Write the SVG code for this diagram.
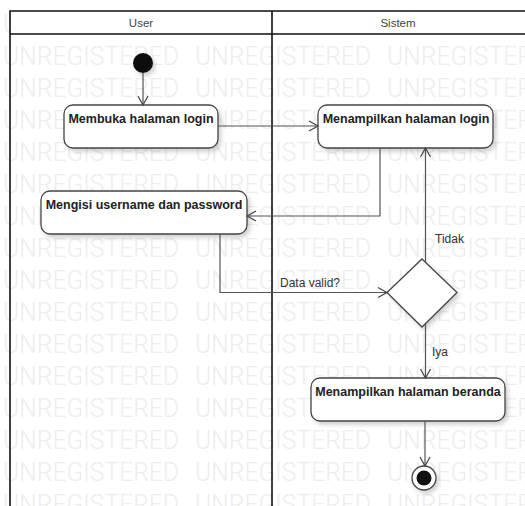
<svg xmlns="http://www.w3.org/2000/svg" width="525" height="506" viewBox="0 0 525 506">
<style>
.wm text{font-family:Roboto,"Liberation Sans",Arial,sans-serif;font-weight:300;font-size:25px;fill:#eeeeee}
.frame{fill:none;stroke:#111;stroke-width:1.6}
.hdr{font-family:"Liberation Sans",Arial,sans-serif;font-size:11.5px;fill:#444;text-anchor:middle}
.box{fill:#fff;stroke:#444;stroke-width:1.3;filter:url(#sh)}
.lbl{font-family:"Liberation Sans",Arial,sans-serif;font-size:12.5px;font-weight:bold;fill:#222;text-anchor:middle}
.cl{fill:none;stroke:#555;stroke-width:1.2}
.ct{font-family:"Liberation Sans",Arial,sans-serif;font-size:12px;fill:#333}
</style>
<defs>
<filter id="sh" x="-10%" y="-20%" width="130%" height="160%">
<feDropShadow dx="2.5" dy="3" stdDeviation="2" flood-color="#000" flood-opacity="0.18"/>
</filter>
<marker id="arr" viewBox="-11 -7 13 14" refX="0" refY="0" markerWidth="13" markerHeight="14" markerUnits="userSpaceOnUse" orient="auto">
<path d="M-9,-5 L0,0 L-9,5" fill="none" stroke="#444" stroke-width="1.2"/>
</marker>
</defs>
<rect width="525" height="506" fill="#fff"/>
<g class="wm">
<text x="3" y="33" textLength="176" lengthAdjust="spacingAndGlyphs">UNREGISTERED</text><text x="195" y="33" textLength="176" lengthAdjust="spacingAndGlyphs">UNREGISTERED</text><text x="387" y="33" textLength="176" lengthAdjust="spacingAndGlyphs">UNREGISTERED</text>
<text x="3" y="65" textLength="176" lengthAdjust="spacingAndGlyphs">UNREGISTERED</text><text x="195" y="65" textLength="176" lengthAdjust="spacingAndGlyphs">UNREGISTERED</text><text x="387" y="65" textLength="176" lengthAdjust="spacingAndGlyphs">UNREGISTERED</text>
<text x="3" y="97" textLength="176" lengthAdjust="spacingAndGlyphs">UNREGISTERED</text><text x="195" y="97" textLength="176" lengthAdjust="spacingAndGlyphs">UNREGISTERED</text><text x="387" y="97" textLength="176" lengthAdjust="spacingAndGlyphs">UNREGISTERED</text>
<text x="3" y="129" textLength="176" lengthAdjust="spacingAndGlyphs">UNREGISTERED</text><text x="195" y="129" textLength="176" lengthAdjust="spacingAndGlyphs">UNREGISTERED</text><text x="387" y="129" textLength="176" lengthAdjust="spacingAndGlyphs">UNREGISTERED</text>
<text x="3" y="161" textLength="176" lengthAdjust="spacingAndGlyphs">UNREGISTERED</text><text x="195" y="161" textLength="176" lengthAdjust="spacingAndGlyphs">UNREGISTERED</text><text x="387" y="161" textLength="176" lengthAdjust="spacingAndGlyphs">UNREGISTERED</text>
<text x="3" y="193" textLength="176" lengthAdjust="spacingAndGlyphs">UNREGISTERED</text><text x="195" y="193" textLength="176" lengthAdjust="spacingAndGlyphs">UNREGISTERED</text><text x="387" y="193" textLength="176" lengthAdjust="spacingAndGlyphs">UNREGISTERED</text>
<text x="3" y="225" textLength="176" lengthAdjust="spacingAndGlyphs">UNREGISTERED</text><text x="195" y="225" textLength="176" lengthAdjust="spacingAndGlyphs">UNREGISTERED</text><text x="387" y="225" textLength="176" lengthAdjust="spacingAndGlyphs">UNREGISTERED</text>
<text x="3" y="257" textLength="176" lengthAdjust="spacingAndGlyphs">UNREGISTERED</text><text x="195" y="257" textLength="176" lengthAdjust="spacingAndGlyphs">UNREGISTERED</text><text x="387" y="257" textLength="176" lengthAdjust="spacingAndGlyphs">UNREGISTERED</text>
<text x="3" y="289" textLength="176" lengthAdjust="spacingAndGlyphs">UNREGISTERED</text><text x="195" y="289" textLength="176" lengthAdjust="spacingAndGlyphs">UNREGISTERED</text><text x="387" y="289" textLength="176" lengthAdjust="spacingAndGlyphs">UNREGISTERED</text>
<text x="3" y="321" textLength="176" lengthAdjust="spacingAndGlyphs">UNREGISTERED</text><text x="195" y="321" textLength="176" lengthAdjust="spacingAndGlyphs">UNREGISTERED</text><text x="387" y="321" textLength="176" lengthAdjust="spacingAndGlyphs">UNREGISTERED</text>
<text x="3" y="353" textLength="176" lengthAdjust="spacingAndGlyphs">UNREGISTERED</text><text x="195" y="353" textLength="176" lengthAdjust="spacingAndGlyphs">UNREGISTERED</text><text x="387" y="353" textLength="176" lengthAdjust="spacingAndGlyphs">UNREGISTERED</text>
<text x="3" y="385" textLength="176" lengthAdjust="spacingAndGlyphs">UNREGISTERED</text><text x="195" y="385" textLength="176" lengthAdjust="spacingAndGlyphs">UNREGISTERED</text><text x="387" y="385" textLength="176" lengthAdjust="spacingAndGlyphs">UNREGISTERED</text>
<text x="3" y="417" textLength="176" lengthAdjust="spacingAndGlyphs">UNREGISTERED</text><text x="195" y="417" textLength="176" lengthAdjust="spacingAndGlyphs">UNREGISTERED</text><text x="387" y="417" textLength="176" lengthAdjust="spacingAndGlyphs">UNREGISTERED</text>
<text x="3" y="449" textLength="176" lengthAdjust="spacingAndGlyphs">UNREGISTERED</text><text x="195" y="449" textLength="176" lengthAdjust="spacingAndGlyphs">UNREGISTERED</text><text x="387" y="449" textLength="176" lengthAdjust="spacingAndGlyphs">UNREGISTERED</text>
<text x="3" y="481" textLength="176" lengthAdjust="spacingAndGlyphs">UNREGISTERED</text><text x="195" y="481" textLength="176" lengthAdjust="spacingAndGlyphs">UNREGISTERED</text><text x="387" y="481" textLength="176" lengthAdjust="spacingAndGlyphs">UNREGISTERED</text>
<text x="3" y="513" textLength="176" lengthAdjust="spacingAndGlyphs">UNREGISTERED</text><text x="195" y="513" textLength="176" lengthAdjust="spacingAndGlyphs">UNREGISTERED</text><text x="387" y="513" textLength="176" lengthAdjust="spacingAndGlyphs">UNREGISTERED</text>
</g>
<g id="lanes">
<rect x="10" y="11" width="520" height="23" fill="#fff"/>
<path class="frame" d="M10,506 V11 H527 M10,34 H527 M272,11 V506"/>
<text class="hdr" x="141" y="27">User</text>
<text class="hdr" x="398" y="27">Sistem</text>
</g>
<g id="start"><circle cx="143" cy="63" r="10" fill="#111" filter="url(#sh)"/></g>
<g id="buka"><rect class="box" x="64" y="105" width="154" height="43" rx="9"/><text class="lbl" x="141" y="123">Membuka halaman login</text></g>
<g id="tampilLogin"><rect class="box" x="318" y="105" width="175" height="43" rx="9"/><text class="lbl" x="406" y="123">Menampilkan halaman login</text></g>
<g id="isi"><rect class="box" x="41" y="191" width="206" height="43" rx="9"/><text class="lbl" x="144" y="209">Mengisi username dan password</text></g>
<g id="decision"><path d="M422,259 L457,292.5 L422,327 L387,292.5 Z" fill="#fff" stroke="#444" stroke-width="1.3" filter="url(#sh)"/></g>
<g id="beranda"><rect class="box" x="311" y="378" width="194" height="43" rx="9"/><text class="lbl" x="408" y="396">Menampilkan halaman beranda</text></g>
<g id="end"><circle cx="424" cy="478" r="12" fill="#fff" stroke="#444" stroke-width="1.3" filter="url(#sh)"/><circle cx="424" cy="478" r="7.5" fill="#111"/></g>
<g id="connectors">
<path class="cl" d="M143,73 V105" marker-end="url(#arr)"/>
<path class="cl" d="M218,126 H318" marker-end="url(#arr)"/>
<path class="cl" d="M380,148 V216 H247" marker-end="url(#arr)"/>
<path class="cl" d="M220,234 V292.5 H387" marker-end="url(#arr)"/>
<path class="cl" d="M425.5,262 V148" marker-end="url(#arr)"/>
<path class="cl" d="M425.5,324 V378" marker-end="url(#arr)"/>
<path class="cl" d="M425,421 V466" marker-end="url(#arr)"/>
<text class="ct" x="280" y="287">Data valid?</text>
<text class="ct" x="435" y="243">Tidak</text>
<text class="ct" x="432" y="356">Iya</text>
</g>
</svg>
